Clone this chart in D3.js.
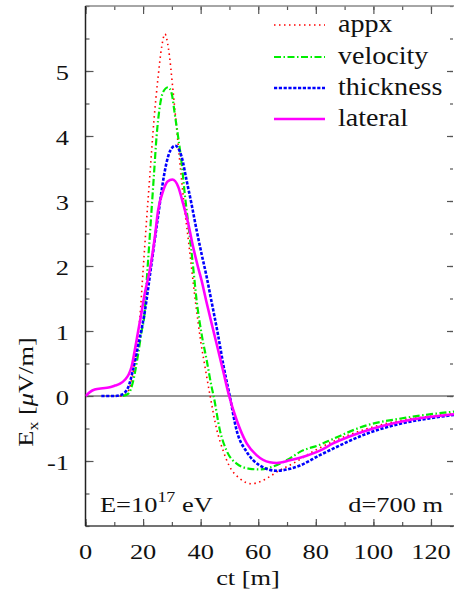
<!DOCTYPE html>
<html>
<head>
<meta charset="utf-8">
<script src="https://cdn.jsdelivr.net/npm/d3@7"></script>
<style>
  body { margin: 0; background: #fff; }
  svg { display: block; }
</style>
</head>
<body>
<svg id="chart" width="454" height="594"></svg>
<script>
// ---------- data ----------
const xTicks = [0, 20, 40, 60, 80, 100, 120];
const yTicks = [-1, 0, 1, 2, 3, 4, 5];
const seriesNames = ["appx", "velocity", "thickness", "lateral"];

const ctAppx = [12, 14, 15.5, 17, 18, 18.9, 20, 21.2, 22.4, 23.7, 25.2, 26.5, 27.6, 28.8, 30.4, 32.5, 34.5, 36, 38.2, 40, 41.5, 43.3, 45.5, 47.8, 50, 53.6, 57.5, 60.6, 64, 66.4, 72, 80, 86, 98, 109, 120, 128];
const eAppx  = [0, 0.03, 0.15, 0.5, 0.85, 1.22, 1.93, 2.7, 3.42, 4.2, 4.9, 5.38, 5.57, 5.35, 4.7, 3.72, 2.85, 2.3, 1.45, 0.85, 0.45, 0, -0.5, -0.84, -1.08, -1.27, -1.35, -1.32, -1.24, -1.17, -1.04, -0.83, -0.7, -0.5, -0.38, -0.31, -0.27];

const ctVelocity = [13, 15, 16.5, 18.3, 19.5, 20.4, 21.5, 22.7, 23.8, 24.7, 25.8, 27, 28.7, 29.9, 31, 32.2, 33.4, 34.5, 35.7, 37.4, 38.6, 40.3, 42.1, 43.8, 44.5, 46.7, 49, 52.5, 57.1, 60.6, 64, 71, 74.5, 81.4, 86, 97.7, 109, 120, 128];
const eVelocity  = [0, 0.04, 0.22, 0.65, 1.0, 1.22, 1.93, 2.7, 3.42, 4.0, 4.45, 4.68, 4.75, 4.66, 4.34, 3.98, 3.58, 3.1, 2.65, 1.98, 1.47, 0.96, 0.55, 0.14, 0, -0.53, -0.84, -1.04, -1.12, -1.13, -1.1, -0.96, -0.86, -0.75, -0.66, -0.45, -0.35, -0.28, -0.24];

const ctThickness = [5.5, 10, 12.5, 14.8, 16.5, 18.3, 19.8, 20.6, 22.6, 25, 27.3, 28.1, 29.5, 31.2, 33.4, 35.1, 36.8, 38.6, 40.3, 42.1, 43.7, 46, 48, 50.1, 52.5, 56, 60.6, 66.4, 71, 74.5, 81.4, 86, 97.7, 109, 120, 128];
const eThickness  = [0, 0, 0.02, 0.13, 0.4, 0.78, 1.1, 1.3, 1.93, 2.7, 3.4, 3.58, 3.78, 3.85, 3.68, 3.32, 2.96, 2.55, 2.19, 1.83, 1.47, 0.95, 0.45, 0, -0.53, -0.86, -1.07, -1.15, -1.12, -1.07, -0.91, -0.81, -0.58, -0.43, -0.34, -0.29];

const ctLateral = [0, 1.5, 3.2, 6, 8, 10.2, 12, 13.7, 15, 16, 17.1, 18.3, 19.2, 20.6, 22.3, 24.1, 25.2, 27, 28.5, 30.2, 32.2, 33.9, 35.7, 37.4, 39.1, 40.3, 42, 44, 46, 48, 49.9, 52.5, 56, 59.4, 64, 66.4, 71, 74.5, 81.4, 86, 97.7, 109, 120, 128];
const eLateral  = [0, 0.06, 0.1, 0.12, 0.13, 0.16, 0.19, 0.25, 0.33, 0.45, 0.7, 1.0, 1.22, 1.58, 1.93, 2.45, 2.85, 3.16, 3.3, 3.33, 3.22, 2.96, 2.65, 2.29, 1.98, 1.78, 1.45, 1.08, 0.72, 0.35, 0, -0.37, -0.73, -0.91, -1.02, -1.03, -0.99, -0.95, -0.84, -0.73, -0.53, -0.4, -0.32, -0.28];

// ---------- layout ----------
const FONT = "Liberation Serif";
const svg = d3.select("#chart");
const L = 85.5, R = 454, T = 6, B = 526;
const x = d3.scaleLinear().domain([0, 128]).range([L, R]);
const y = d3.scaleLinear().domain([-2, 6]).range([B, T]);

const FS = 22, SX = 1.2;

svg.append("defs").append("clipPath").attr("id", "clip")
  .append("rect").attr("x", L).attr("y", T).attr("width", R - L).attr("height", B - T);

// zero line
svg.append("line")
  .attr("x1", x(0)).attr("x2", x(128)).attr("y1", y(0)).attr("y2", y(0))
  .attr("stroke", "#777").attr("stroke-width", 1.5);

// axes with inward ticks (major + minor)
function tickAxis(axisGen, transform) {
  const g = svg.append("g").attr("transform", transform).call(axisGen);
  g.select(".domain").remove();
  g.selectAll("line").attr("stroke", "#555").attr("stroke-width", 1.2);
  g.selectAll("text").remove();
  return g;
}
const xMinor = d3.range(0, 129, 10);
const yMinor = d3.range(-2, 6.01, 0.5);
tickAxis(d3.axisTop(x).tickValues(xMinor).tickSize(4), `translate(0,${B})`);
tickAxis(d3.axisTop(x).tickValues(xTicks).tickSize(7), `translate(0,${B})`);
tickAxis(d3.axisBottom(x).tickValues(xMinor).tickSize(4), `translate(0,${T})`);
tickAxis(d3.axisBottom(x).tickValues(xTicks).tickSize(8), `translate(0,${T})`);
tickAxis(d3.axisRight(y).tickValues(yMinor).tickSize(4), `translate(${L},0)`);
tickAxis(d3.axisRight(y).tickValues(yTicks).tickSize(8), `translate(${L},0)`);
tickAxis(d3.axisLeft(y).tickValues(yMinor).tickSize(3), `translate(${R - 1},0)`);
tickAxis(d3.axisLeft(y).tickValues(yTicks).tickSize(6), `translate(${R - 1},0)`);

// frame
svg.append("line").attr("x1", L).attr("x2", R).attr("y1", T).attr("y2", T).attr("stroke", "#888").attr("stroke-width", 1.5);
svg.append("line").attr("x1", L).attr("x2", R).attr("y1", B).attr("y2", B).attr("stroke", "#444").attr("stroke-width", 1.5);
svg.append("line").attr("x1", L).attr("x2", L).attr("y1", T).attr("y2", B).attr("stroke", "#222").attr("stroke-width", 1.5);

// text helper
function label(txt, px, py, anchor, fs, sx) {
  return svg.append("text")
    .attr("transform", `translate(${px},${py}) scale(${sx || SX},1)`)
    .attr("text-anchor", anchor || "start")
    .attr("font-family", FONT)
    .attr("font-size", fs || FS)
    .attr("fill", "#111")
    .text(txt);
}
xTicks.forEach(v => label(String(v), x(v), 559, "middle"));
yTicks.forEach(v => label(String(v), 69, y(v) + 8.5, "end"));

// axis titles
label("ct [m]", 248, 585, "middle");
const yl = svg.append("text")
  .attr("transform", `translate(33,392) rotate(-90) scale(${SX},1)`)
  .attr("text-anchor", "middle").attr("font-family", FONT).attr("font-size", FS).attr("fill", "#111");
yl.append("tspan").text("E");
yl.append("tspan").attr("font-size", 15).attr("dy", 5).text("x");
yl.append("tspan").attr("dy", -5).text(" [");
yl.append("tspan").attr("font-style", "italic").text("μ");
yl.append("tspan").text("V/m]");

// annotations
const en = svg.append("text")
  .attr("transform", `translate(100,512) scale(${SX},1)`)
  .attr("font-family", FONT).attr("font-size", FS).attr("fill", "#111");
en.append("tspan").text("E=10");
en.append("tspan").attr("font-size", 15).attr("dy", -10).text("17");
en.append("tspan").attr("dy", 10).text(" eV");
label("d=700 m", 443, 512, "end");

// curves
const styles = [
  { ct: ctAppx,      e: eAppx,      color: "#ff0000", width: 1.6, dash: "1.5,3.5" },
  { ct: ctVelocity,  e: eVelocity,  color: "#00ee00", width: 2.2, dash: "7,2.5,1.5,2.5" },
  { ct: ctThickness, e: eThickness, color: "#0000ff", width: 2.6, dash: "3.2,1.6" },
  { ct: ctLateral,   e: eLateral,   color: "#ff00ff", width: 2.6, dash: null }
];
const line = d3.line().x(d => x(d[0])).y(d => y(d[1])).curve(d3.curveMonotoneX);
const cg = svg.append("g").attr("clip-path", "url(#clip)");
styles.forEach(s => {
  const pts = s.ct.map((c, i) => [c, s.e[i]]);
  cg.append("path").datum(pts)
    .attr("d", line)
    .attr("fill", "none")
    .attr("stroke", s.color)
    .attr("stroke-width", s.width)
    .attr("stroke-dasharray", s.dash)
    .attr("stroke-linejoin", "round");
});

// legend
const legY = [25, 57, 88, 119];
styles.forEach((s, i) => {
  svg.append("line")
    .attr("x1", 274).attr("x2", 325).attr("y1", legY[i]).attr("y2", legY[i])
    .attr("stroke", s.color).attr("stroke-width", s.width)
    .attr("stroke-dasharray", s.dash);
  label(seriesNames[i], 338, legY[i] + 7, "start", 26, 1.08);
});
</script>
</body>
</html>
